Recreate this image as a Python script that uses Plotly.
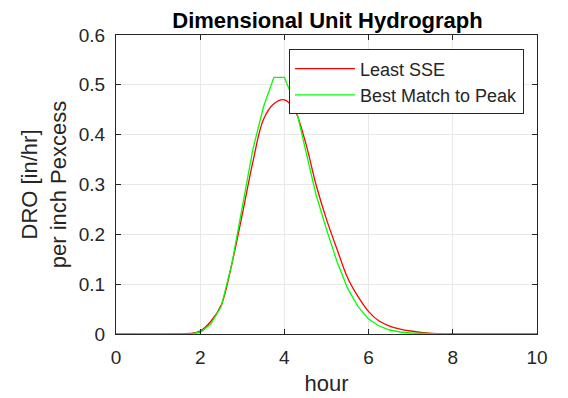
import plotly.graph_objects as go

# hydrograph ordinates (hour vs DRO per inch of excess)
hours = [0, 1.5, 1.75, 2.0, 2.25, 2.5, 2.75, 3.0, 3.25, 3.5, 3.75, 4.0, 4.25, 4.5,
         4.75, 5.0, 5.25, 5.5, 5.75, 6.0, 6.25, 6.5, 6.75, 7.0, 7.25, 7.5, 7.75, 8.0, 10.0]
least_sse = [0, 0, 0.001, 0.006, 0.025, 0.058, 0.14, 0.24, 0.345, 0.43, 0.462, 0.47, 0.448, 0.385,
             0.30, 0.23, 0.17, 0.113, 0.075, 0.045, 0.026, 0.016, 0.010, 0.006, 0.003, 0.001, 0, 0, 0]
best_peak = [0, 0, 0, 0.003, 0.02, 0.055, 0.14, 0.255, 0.37, 0.455, 0.515, 0.515, 0.462, 0.37,
             0.28, 0.21, 0.145, 0.092, 0.055, 0.03, 0.016, 0.008, 0.004, 0.002, 0.001, 0, 0, 0, 0]

series_names = ["Least SSE", "Best Match to Peak"]

FONT = "Liberation Sans, Arial, sans-serif"
AX = "#262626"

fig = go.Figure()
fig.add_trace(go.Scatter(x=hours, y=least_sse, mode="lines", name=series_names[0],
                         line=dict(color="#ff0000", width=1.3, shape="spline")))
fig.add_trace(go.Scatter(x=hours, y=best_peak, mode="lines", name=series_names[1],
                         line=dict(color="#00ff00", width=1.3)))

axis_common = dict(showline=True, linecolor=AX, linewidth=1, mirror="ticks",
                   ticks="inside", ticklen=5, tickcolor=AX, automargin=False,
                   showgrid=True, gridcolor="#e8e8e8", gridwidth=1, ticklabelstandoff=6,
                   zeroline=False, tickfont=dict(size=19, color=AX, family=FONT))

fig.update_xaxes(range=[0, 10], dtick=2, tick0=0,
                 title=dict(text="hour", font=dict(size=22, color=AX, family=FONT), standoff=8),
                 **axis_common)
fig.update_yaxes(range=[0, 0.6], dtick=0.1, tick0=0,
                 title=dict(text="DRO [in/hr]<br>per inch Pexcess",
                            font=dict(size=22, color=AX, family=FONT), standoff=6),
                 **axis_common)

fig.update_layout(
    width=568, height=398,
    margin=dict(l=116, r=31, t=35, b=64),
    paper_bgcolor="white", plot_bgcolor="white",
    font=dict(family=FONT, color=AX),
    title=dict(text="<b>Dimensional Unit Hydrograph</b>", x=0.5766, xanchor="center",
               y=0.948, yanchor="middle", font=dict(size=22, color="black", family=FONT)),
    legend=dict(x=0.969, y=0.952, xanchor="right", yanchor="top",
                bgcolor="white", bordercolor=AX, borderwidth=1,
                font=dict(size=18, color=AX, family=FONT), itemwidth=60,
                tracegroupgap=0),
    showlegend=True,
)

# page body has a default 8px margin; drop it so the figure sits at the window corner
fig.write_html("out.html", config={"displayModeBar": False},
               post_script="document.body.style.margin='0';")
